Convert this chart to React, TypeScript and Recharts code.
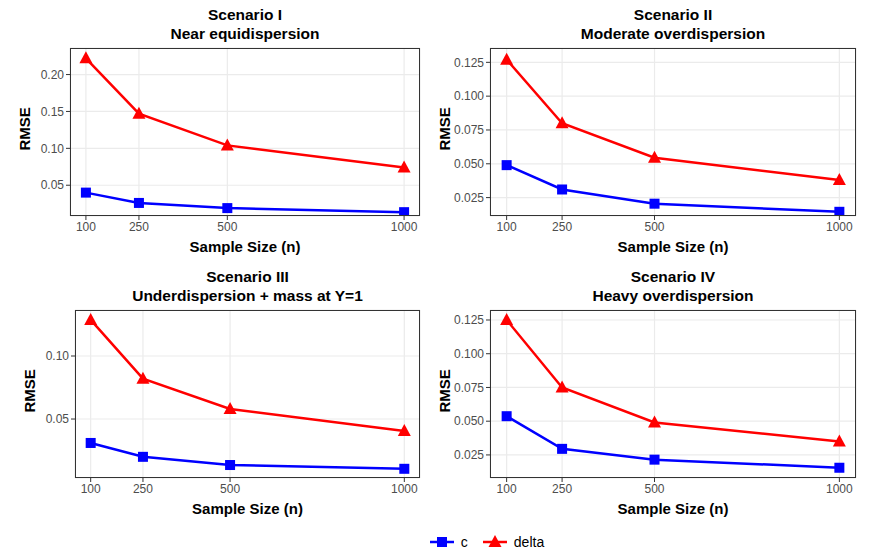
import React from 'react';
import { LineChart, Line, XAxis, YAxis, CartesianGrid } from 'recharts';

const sampleSizes = [100, 250, 500, 1000];
const titles = [
  ['Scenario I', 'Near equidispersion'],
  ['Scenario II', 'Moderate overdispersion'],
  ['Scenario III', 'Underdispersion + mass at Y=1'],
  ['Scenario IV', 'Heavy overdispersion'],
];
const cValues = [
  [0.040, 0.026, 0.019, 0.0135],
  [0.049, 0.031, 0.0205, 0.0145],
  [0.031, 0.020, 0.0135, 0.0105],
  [0.0537, 0.0295, 0.0215, 0.0155],
];
const deltaValues = [
  [0.222, 0.147, 0.104, 0.074],
  [0.127, 0.080, 0.0545, 0.038],
  [0.1286, 0.082, 0.058, 0.0405],
  [0.125, 0.075, 0.049, 0.035],
];
const yTicks = [
  [0.05, 0.1, 0.15, 0.2],
  [0.025, 0.05, 0.075, 0.1, 0.125],
  [0.05, 0.1],
  [0.025, 0.05, 0.075, 0.1, 0.125],
];
const yDomains = [
  [0.0083, 0.236],
  [0.0114, 0.1356],
  [0.0032, 0.1365],
  [0.0079, 0.1324],
];
const yDecimals = [2, 3, 2, 3];

const FONT = 'Arial, "Liberation Sans", sans-serif';

const Square = (p: any) => (
  <rect x={p.cx - 5} y={p.cy - 5} width={10} height={10} fill="#0000ff" />
);
const Triangle = (p: any) => (
  <polygon points={`${p.cx},${p.cy - 7} ${p.cx - 6.5},${p.cy + 5} ${p.cx + 6.5},${p.cy + 5}`} fill="#ff0000" />
);

const Panel = ({ i, left, top, axisW }: { i: number; left: number; top: number; axisW: number }) => {
  const W = 436;
  const H = 204;
  const mr = 16;
  const data = sampleSizes.map((n, k) => ({ n, c: cValues[i][k], delta: deltaValues[i][k] }));
  const plotL = left + axisW;
  const plotR = left + W - mr;
  const plotT = top + 4;
  const plotB = top + H - 32;
  return (
    <>
      <div style={{ position: 'absolute', left: plotL, width: plotR - plotL, top: top - 39, textAlign: 'center', fontWeight: 'bold', fontSize: 15.5, lineHeight: '19px' }}>
        {titles[i][0]}<br />{titles[i][1]}
      </div>
      <div style={{ position: 'absolute', left: left, top: top }}>
        <LineChart width={W} height={H} data={data} margin={{ top: 4, right: mr, bottom: 0, left: 0 }}>
          <CartesianGrid stroke="#ebebeb" strokeWidth={1.2} />
          <XAxis dataKey="n" type="number" domain={[55, 1045]} ticks={sampleSizes} height={32}
            tick={{ fill: '#4d4d4d', fontSize: 12 }} tickLine={{ stroke: '#333' }} tickSize={4} axisLine={false} />
          <YAxis type="number" domain={yDomains[i]} ticks={yTicks[i]} width={axisW} allowDataOverflow
            tickFormatter={(v: number) => v.toFixed(yDecimals[i])}
            tick={{ fill: '#4d4d4d', fontSize: 12 }} tickLine={{ stroke: '#333' }} tickSize={4} axisLine={false} />
          <Line dataKey="c" stroke="#0000ff" strokeWidth={2.5} dot={<Square />} isAnimationActive={false} />
          <Line dataKey="delta" stroke="#ff0000" strokeWidth={2.5} dot={<Triangle />} isAnimationActive={false} />
        </LineChart>
      </div>
      <div style={{ position: 'absolute', left: plotL, top: plotT, width: plotR - plotL, height: plotB - plotT, border: '1px solid #333', boxSizing: 'border-box', pointerEvents: 'none' }} />
      <div style={{ position: 'absolute', left: plotL, width: plotR - plotL, top: plotB + 22, textAlign: 'center', fontWeight: 'bold', fontSize: 15 }}>Sample Size (n)</div>
      <div style={{ position: 'absolute', left: plotL - 66, top: (plotT + plotB) / 2 - 10, width: 40, textAlign: 'center', fontWeight: 'bold', fontSize: 15, transform: 'rotate(-90deg)' }}>RMSE</div>
    </>
  );
};

export default function App() {
  return (
    <div style={{ position: 'absolute', left: 0, top: 0, width: 873, height: 560, background: '#fff', fontFamily: FONT, color: '#000' }}>
      <Panel i={0} left={0} top={44} axisW={70} />
      <Panel i={1} left={436} top={44} axisW={54} />
      <Panel i={2} left={0} top={306} axisW={75} />
      <Panel i={3} left={436} top={306} axisW={54} />
      <div style={{ position: 'absolute', top: 532, left: 50, width: 873, display: 'flex', justifyContent: 'center', alignItems: 'center', fontSize: 14 }}>
        <svg width={26} height={20}><line x1={1} y1={10} x2={25} y2={10} stroke="#0000ff" strokeWidth={2.5} /><rect x={8} y={5} width={10} height={10} fill="#0000ff" /></svg>
        <span style={{ margin: '0 14px 0 6px' }}>c</span>
        <svg width={26} height={20}><line x1={1} y1={10} x2={25} y2={10} stroke="#ff0000" strokeWidth={2.5} /><polygon points="13,3 6.5,15 19.5,15" fill="#ff0000" /></svg>
        <span style={{ marginLeft: 6 }}>delta</span>
      </div>
    </div>
  );
}
